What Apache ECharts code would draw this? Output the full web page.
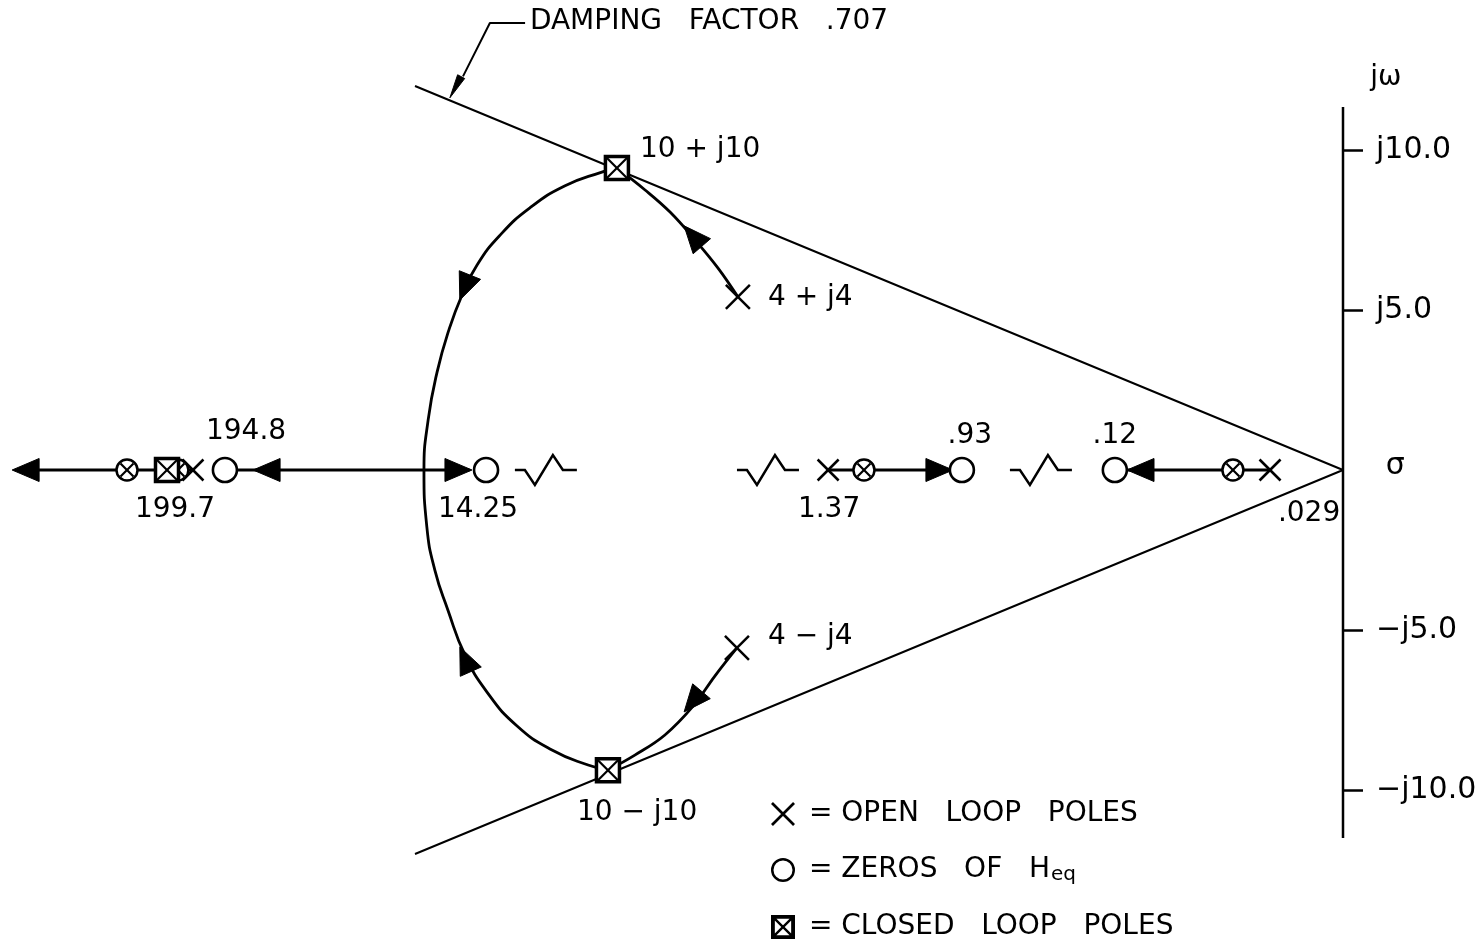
<!DOCTYPE html>
<html><head><meta charset="utf-8">
<script src="https://cdn.jsdelivr.net/npm/echarts@6/dist/echarts.min.js"></script>
<style>html,body{margin:0;padding:0;background:#fff}#c{width:1482px;height:945px}</style>
</head><body><div id="c"></div>
<script>
// Schematic s-plane (real axis drawn with breaks; 1 unit along sigma = 1 unit of j-omega)
const openLoopPoles   = [[-35.94,0],[-16.09,0],[-2.28,0],[-18.91,5.41],[-18.94,-5.56]];
const zerosOfHeq      = [[-34.94,0],[-26.78,0],[-11.91,0],[-7.13,0]];
const closedLoopPoles = [[-36.75,0],[-22.69,9.44],[-22.97,-9.38]];
const circledPoles    = [[-38.0,0],[-36.41,0],[-14.97,0],[-3.44,0]];
const realAxisSegments = [
  [[-40.9,0],[-35.94,0]],
  [[-34.94,0],[-27.3,0]],
  [[-16.09,0],[-12.3,0]],
  [[-7.0,0],[-2.28,0]]
];
const ellipseLocus = [[-22.69,9.44],[-23.16,9.31],[-24.31,8.88],[-25.41,8.19],[-26.34,7.34],[-27.06,6.41],[-27.53,5.47],[-27.94,4.38],[-28.31,3.06],[-28.59,1.56],[-28.72,0],[-28.63,-1.78],[-28.38,-3.13],[-27.97,-4.38],[-27.44,-5.78],[-26.75,-6.94],[-25.81,-8.0],[-24.72,-8.75],[-23.59,-9.22],[-22.97,-9.38]];
const upperBranch = [[-22.69,9.44],[-21.81,8.75],[-21.03,8.06],[-20.25,7.19],[-19.53,6.31],[-18.91,5.41]];
const lowerBranch = [[-18.94,-5.56],[-19.63,-6.44],[-20.31,-7.38],[-21.19,-8.28],[-22.13,-8.91],[-22.97,-9.38]];
const dampingLine = [[-29,12],[0,0],[-29,-12]];
const jwAxisLine  = [[0,11.34],[0,-11.5]];
const axisBreaks  = [[-24.91,0],[-17.97,0],[-9.44,0]];
// [tip sigma, tip jw, direction in degrees]
const locusArrows = [[-41.59,0,180],[-34.06,0,180],[-27.22,0,0],[-12.19,0,0],[-6.75,0,180],[-27.6,5.31,112],[-27.6,-5.53,246],[-20.59,7.63,229],[-20.59,-7.56,130]];
const leaderLine  = [[-25.56,13.97],[-26.66,13.97],[-27.5,12.3]];
const leaderArrow = [[-27.91,11.63,118]];
const jTicks = [-10,-5,5,10];
const pointLabels = [
  {text:'10 + j10', at:[-21.97,10.0], align:'left'},
  {text:'4 + j4',   at:[-17.97,5.38], align:'left'},
  {text:'4 − j4',   at:[-17.97,-5.22], align:'left'},
  {text:'10 − j10', at:[-22.06,-10.72], align:'center'},
  {text:'194.8',    at:[-34.28,1.19], align:'center'},
  {text:'199.7',    at:[-36.5,-1.25], align:'center'},
  {text:'14.25',    at:[-27.03,-1.25], align:'center'},
  {text:'1.37',     at:[-16.06,-1.25], align:'center'},
  {text:'.93',      at:[-11.66,1.06], align:'center'},
  {text:'.12',      at:[-7.13,1.06], align:'center'},
  {text:'.029',     at:[-1.06,-1.38], align:'center'},
  {text:'σ',        at:[1.63,0.12], align:'center', size:30},
  {text:'jω',       at:[1.34,12.25], align:'center'},
  {text:'DAMPING   FACTOR   .707', at:[-25.41,14.0], align:'left', size:28}
];

const FONT = '"DejaVu Sans", "Liberation Sans", sans-serif';
const BLACK = '#000';

function lineSeries(data, width, z, smooth) {
  return {type:'line', data, symbol:'none', smooth: smooth || false, clip:false, silent:true, z,
    lineStyle:{color:BLACK, width}, animation:false};
}

function markerSeries(name, data, kind, z) {
  return {
    name, type:'custom', coordinateSystem:'cartesian2d', data, z, clip:false, silent:true,
    itemStyle:{color:BLACK}, animation:false,
    renderItem(params, api) {
      const p = api.coord([api.value(0), api.value(1)]);
      const cx = p[0], cy = p[1];
      const stroke = {stroke:BLACK, fill:null, lineWidth:2.5};
      if (kind === 'x') {
        const h = api.value(1) !== 0 ? 12 : 10.5;
        return {type:'group', children:[
          {type:'line', shape:{x1:cx-h,y1:cy-h,x2:cx+h,y2:cy+h}, style:stroke},
          {type:'line', shape:{x1:cx-h,y1:cy+h,x2:cx+h,y2:cy-h}, style:stroke}
        ]};
      }
      if (kind === 'o') {
        return {type:'circle', shape:{cx, cy, r:12}, style:{stroke:BLACK, fill:'#fff', lineWidth:2.6}};
      }
      if (kind === 'ox') {
        const r = 10.5, d = 6.5;
        return {type:'group', children:[
          {type:'circle', shape:{cx, cy, r}, style:{stroke:BLACK, fill:'#fff', lineWidth:2.5}},
          {type:'line', shape:{x1:cx-d,y1:cy-d,x2:cx+d,y2:cy+d}, style:{stroke:BLACK, lineWidth:2.2}},
          {type:'line', shape:{x1:cx-d,y1:cy+d,x2:cx+d,y2:cy-d}, style:{stroke:BLACK, lineWidth:2.2}}
        ]};
      }
      const s = 11.5;
      return {type:'group', children:[
        {type:'rect', shape:{x:cx-s, y:cy-s, width:2*s, height:2*s}, style:{stroke:BLACK, fill:'#fff', lineWidth:3.5}},
        {type:'line', shape:{x1:cx-s,y1:cy-s,x2:cx+s,y2:cy+s}, style:{stroke:BLACK, lineWidth:2.2}},
        {type:'line', shape:{x1:cx-s,y1:cy+s,x2:cx+s,y2:cy-s}, style:{stroke:BLACK, lineWidth:2.2}}
      ]};
    }
  };
}

function arrowSeries(data, len, wid, z) {
  return {
    type:'custom', coordinateSystem:'cartesian2d', data, z, clip:false, silent:true, animation:false,
    renderItem(params, api) {
      const p = api.coord([api.value(0), api.value(1)]);
      const a = api.value(2) * Math.PI / 180;
      const dx = Math.cos(a), dy = Math.sin(a);
      const bx = p[0] - len*dx, by = p[1] - len*dy;
      const px = -dy * wid/2, py = dx * wid/2;
      return {type:'polygon', shape:{points:[[p[0],p[1]],[bx+px,by+py],[bx-px,by-py]]},
        style:{fill:BLACK, stroke:BLACK, lineWidth:1}};
    }
  };
}

const breakSeries = {
  type:'custom', coordinateSystem:'cartesian2d', data:axisBreaks, z:3, clip:false, silent:true, animation:false,
  renderItem(params, api) {
    const p = api.coord([api.value(0), api.value(1)]);
    const offs = [[-31,0],[-21,0],[-11,15],[7,-15],[17,0],[31,0]];
    return {type:'polyline', shape:{points: offs.map(o => [p[0]+o[0], p[1]+o[1]])},
      style:{stroke:BLACK, fill:null, lineWidth:2.5}};
  }
};

const labelSeries = {
  type:'custom', coordinateSystem:'cartesian2d', z:10, clip:false, silent:true, animation:false,
  data: pointLabels.map(l => [l.at[0], l.at[1]]),
  renderItem(params, api) {
    const l = pointLabels[params.dataIndex];
    const p = api.coord([api.value(0), api.value(1)]);
    return {type:'text', x:p[0], y:p[1], style:{text:l.text, fill:BLACK, fontSize:l.size || 28,
      fontFamily:FONT, align:l.align, verticalAlign:'middle'}};
  }
};

const ICON_X = 'path://M2.1,0 L26,23.9 L23.9,26 L0,2.1 Z M23.9,0 L26,2.1 L2.1,26 L0,23.9 Z';
const ICON_O = 'path://M12.5,0 A12.5,12.5 0 1,1 12.5,25 A12.5,12.5 0 1,1 12.5,0 Z M12.5,2.6 A9.9,9.9 0 1,0 12.5,22.4 A9.9,9.9 0 1,0 12.5,2.6 Z';
const ICON_BOX = 'path://M0,0 L20,0 L20,20 L0,20 Z M3.2,3.2 L3.2,16.8 L16.8,16.8 L16.8,3.2 Z M3.7,2.3 L17.7,16.3 L16.3,17.7 L2.3,3.7 Z M16.3,2.3 L17.7,3.7 L3.7,17.7 L2.3,16.3 Z';

const series = [
  lineSeries(dampingLine, 2, 1),
  lineSeries(jwAxisLine, 2.5, 1),
  lineSeries(leaderLine, 2, 1),
  lineSeries(ellipseLocus, 2.8, 2, 0.5),
  lineSeries(upperBranch, 2.8, 2, 0.4),
  lineSeries(lowerBranch, 2.8, 2, 0.4),
  ...realAxisSegments.map(seg => lineSeries(seg, 3, 2)),
  breakSeries,
  arrowSeries(locusArrows, 27, 23, 4),
  arrowSeries(leaderArrow, 24, 8, 4),
  markerSeries('circled', circledPoles, 'ox', 5),
  markerSeries('CLOSED LOOP POLES', closedLoopPoles, 'box', 6),
  markerSeries('ZEROS OF Heq', zerosOfHeq, 'o', 6),
  markerSeries('OPEN LOOP POLES', openLoopPoles, 'x', 7),
  labelSeries
];

const chart = echarts.init(document.getElementById('c'), null, {renderer:'canvas'});
chart.setOption({
  animation:false,
  backgroundColor:'#fff',
  grid:{left:7, right:139, top:86, bottom:91},
  xAxis:{type:'value', min:-41.75, max:0, show:false, splitLine:{show:false}},
  yAxis:{type:'value', min:-12, max:12, position:'right',
    axisLine:{show:false}, splitLine:{show:false},
    axisTick:{show:true, length:20, customValues:jTicks, lineStyle:{color:BLACK, width:2.5}},
    axisLabel:{show:true, margin:33, customValues:jTicks, color:BLACK, fontSize:30, fontFamily:FONT,
      formatter: v => (v > 0 ? 'j' : '−j') + Math.abs(v).toFixed(1)}},
  legend:{
    orient:'vertical', left:771, top:800, padding:0, itemWidth:24, itemHeight:24, itemGap:28, selectedMode:false,
    data:[{name:'OPEN LOOP POLES', icon:ICON_X},{name:'ZEROS OF Heq', icon:ICON_O},{name:'CLOSED LOOP POLES', icon:ICON_BOX}],
    itemStyle:{color:BLACK, borderWidth:0},
    formatter: name => name === 'ZEROS OF Heq' ? '{t| = ZEROS   OF   H}{s|eq}' : '{t| = ' + name.split(' ').join('   ') + '}',
    textStyle:{color:BLACK, fontSize:28, fontFamily:FONT,
      rich:{t:{fontSize:28, fontFamily:FONT, color:BLACK}, s:{fontSize:20, fontFamily:FONT, color:BLACK, padding:[10,0,0,1]}}}
  },
  series
});
</script></body></html>
